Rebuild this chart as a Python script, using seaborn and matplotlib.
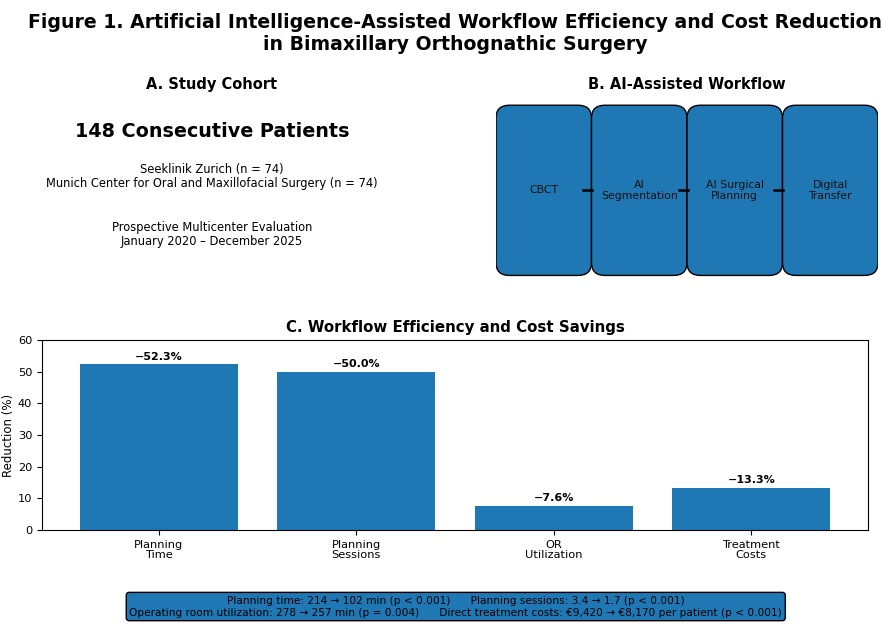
import matplotlib
matplotlib.use("Agg")
import matplotlib.pyplot as plt
from matplotlib.patches import FancyBboxPatch
import seaborn as sns
import pandas as pd

# Data
metrics = ["Planning\nTime", "Planning\nSessions", "OR\nUtilization", "Treatment\nCosts"]
reductions = [52.3, 50.0, 7.6, 13.3]
workflow_steps = ["CBCT", "AI\nSegmentation", "AI Surgical\nPlanning", "Digital\nTransfer"]
cohort_lines = ["Seeklinik Zurich (n = 74)", "Munich Center for Oral and Maxillofacial Surgery (n = 74)"]
study_lines = ["Prospective Multicenter Evaluation", "January 2020 – December 2025"]
summary_lines = [
    "Planning time: 214 → 102 min (p < 0.001)      Planning sessions: 3.4 → 1.7 (p < 0.001)",
    "Operating room utilization: 278 → 257 min (p = 0.004)      Direct treatment costs: €9,420 → €8,170 per patient (p < 0.001)",
]

blue = "#1f77b4"
W, H = 885, 624
fig = plt.figure(figsize=(8.85, 6.24), dpi=100)

def px_axes(x0, y0, x1, y1):
    return fig.add_axes([x0 / W, (H - y1) / H, (x1 - x0) / W, (y1 - y0) / H])

fig.suptitle("Figure 1. Artificial Intelligence-Assisted Workflow Efficiency and Cost Reduction\n"
             "in Bimaxillary Orthognathic Surgery",
             x=0.514, y=0.979, fontsize=13.6, fontweight="bold", linespacing=1.2)

# A. Study cohort
ax_a = px_axes(42, 97, 382, 280)
ax_a.axis("off")
ax_a.set_title("A. Study Cohort", fontsize=10.5, fontweight="bold")
ax_a.text(0.5, (280 - 132) / 183, "148 Consecutive Patients", ha="center", va="center",
          fontsize=13.8, fontweight="bold", transform=ax_a.transAxes)
ax_a.text(0.5, (280 - 177) / 183, "\n".join(cohort_lines), ha="center", va="center",
          fontsize=8.3, transform=ax_a.transAxes, linespacing=1.1)
ax_a.text(0.5, (280 - 234) / 183, "\n".join(study_lines), ha="center", va="center",
          fontsize=8.3, transform=ax_a.transAxes, linespacing=1.1)

# B. AI-assisted workflow
ax_b = px_axes(496, 97, 878, 280)
ax_b.set_xlim(0, 1)
ax_b.set_ylim(0, 1)
ax_b.axis("off")
ax_b.set_title("B. AI-Assisted Workflow", fontsize=10.5, fontweight="bold")
n = len(workflow_steps)
bw = 1.0 / n
for i, step in enumerate(workflow_steps):
    x0 = i * bw + 0.01
    box = FancyBboxPatch((x0, 0.045), bw - 0.02, 0.89,
                         boxstyle="round,pad=0.01,rounding_size=0.035",
                         facecolor=blue, edgecolor="black", linewidth=1.0, mutation_aspect=2)
    ax_b.add_patch(box)
    ax_b.text(i * bw + bw / 2, 0.49, step, ha="center", va="center", fontsize=7.8,
              color="#111111", linespacing=1.1)
    if i < n - 1:
        ax_b.plot([(i + 1) * bw - 0.022, (i + 1) * bw + 0.002], [0.49, 0.49],
                  color="black", lw=1.8, zorder=3)

# C. Workflow efficiency
ax_c = px_axes(42, 340, 868, 530)
df = pd.DataFrame({"metric": metrics, "reduction": reductions})
sns.barplot(data=df, x="metric", y="reduction", color=blue, saturation=1,
            width=0.8, ax=ax_c)
ax_c.set_xlim(-0.59, 3.59)
ax_c.set_ylim(0, 60)
ax_c.set_xlabel("")
ax_c.set_ylabel("Reduction (%)", fontsize=8.5, labelpad=2)
ax_c.set_title("C. Workflow Efficiency and Cost Savings", fontsize=10.8, fontweight="bold")
ax_c.tick_params(labelsize=8.2)
for lbl in ax_c.get_xticklabels():
    lbl.set_linespacing(1.0)
for i, v in enumerate(reductions):
    ax_c.text(i, v + 0.8, f"−{v:.1f}%", ha="center", va="bottom", fontsize=8, fontweight="bold")

fig.text(0.515, 0.028, "\n".join(summary_lines), ha="center", va="center", fontsize=7.6,
         linespacing=1.25,
         bbox=dict(boxstyle="round,pad=0.3", facecolor=blue, edgecolor="black"))

fig.savefig("out.png", dpi=100)
